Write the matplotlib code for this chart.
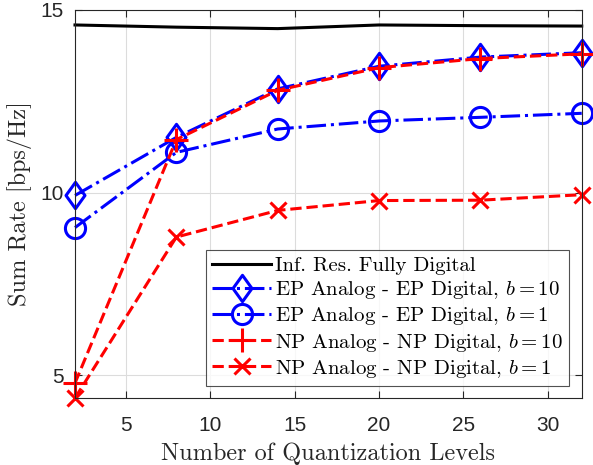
import matplotlib
matplotlib.use("Agg")
import matplotlib.pyplot as plt
from matplotlib.path import Path

plt.rcParams['mathtext.fontset'] = 'cm'

levels = [2, 8, 14, 20, 26, 32]
inf_res_digital = [14.59, 14.53, 14.49, 14.59, 14.57, 14.56]
ep_b10 = [9.92, 11.51, 12.84, 13.46, 13.71, 13.83]
ep_b1 = [9.04, 11.10, 11.74, 11.96, 12.06, 12.17]
np_b10 = [4.78, 11.45, 12.80, 13.42, 13.67, 13.80]
np_b1 = [4.37, 8.78, 9.51, 9.78, 9.79, 9.94]

labels = [
    'Inf. Res. Fully Digital',
    'EP Analog - EP Digital, $b=10$',
    'EP Analog - EP Digital, $b=1$',
    'NP Analog - NP Digital, $b=10$',
    'NP Analog - NP Digital, $b=1$',
]

serif = ['cmr10', 'DejaVu Serif']

# tall diamond marker
diamond = Path([(0, 1), (0.72, 0), (0, -1), (-0.72, 0), (0, 1)],
               [Path.MOVETO, Path.LINETO, Path.LINETO, Path.LINETO,
                Path.CLOSEPOLY])

fig = plt.figure(figsize=(5.93, 4.65), dpi=100)
ax = fig.add_axes([0.1265, 0.144, 0.8545, 0.8345])

lw = 2.2
ax.plot(levels, inf_res_digital, color='black', lw=lw, label=labels[0],
        clip_on=False)
ax.plot(levels, ep_b10, color='blue', ls='-.', lw=lw, marker=diamond, ms=19,
        mfc='none', mew=2.2, label=labels[1], clip_on=False)
ax.plot(levels, ep_b1, color='blue', ls='-.', lw=lw, marker='o', ms=14.5,
        mfc='none', mew=2.2, label=labels[2], clip_on=False)
ax.plot(levels, np_b10, color='red', ls='--', lw=lw, marker='+', ms=17,
        mew=2.2, label=labels[3], clip_on=False)
ax.plot(levels, np_b1, color='red', ls='--', lw=lw, marker='x', ms=12,
        mew=2.2, label=labels[4], clip_on=False)

ax.set_xlim(2, 32)
ax.set_ylim(min(np_b1), 15)
ax.set_xticks([5, 10, 15, 20, 25, 30])
ax.set_yticks([5, 10, 15])
ax.grid(True, color='#dcdcdc', lw=0.8)
ax.set_axisbelow(True)
ax.tick_params(direction='in', top=True, right=True, length=5,
               labelsize=15, colors='#262626')
ax.tick_params(axis='x', pad=13)
ax.tick_params(axis='y', pad=8)
for lab in ax.get_xticklabels() + ax.get_yticklabels():
    lab.set_fontfamily('Liberation Sans')
for sp in ax.spines.values():
    sp.set_color('#262626')
    sp.set_linewidth(0.8)

ax.set_xlabel('Number of Quantization Levels', fontsize=17.5,
              color='#262626', family=serif, labelpad=5)
ax.set_ylabel('Sum Rate [bps/Hz]', fontsize=17.5, color='#262626',
              family=serif, labelpad=6)

leg = ax.legend(loc='lower right', bbox_to_anchor=(569 / 593, 1 - 386 / 465),
                bbox_transform=fig.transFigure, borderaxespad=0,
                prop={'family': serif, 'size': 15}, frameon=True,
                fancybox=False, edgecolor='#262626', handlelength=2.8,
                handletextpad=0.2, borderpad=0.3, labelspacing=0.2)
leg.get_frame().set_linewidth(0.8)

fig.savefig('out.png', dpi=100)
